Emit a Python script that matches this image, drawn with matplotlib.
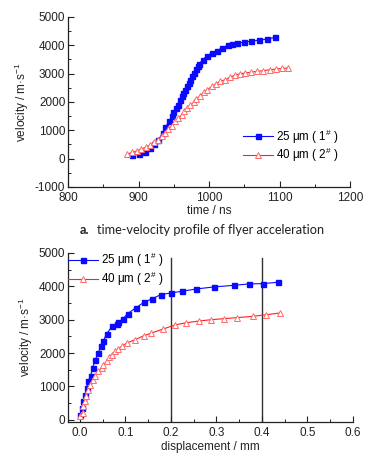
import matplotlib
matplotlib.use('Agg')
import matplotlib.pyplot as plt
from matplotlib.ticker import MultipleLocator

# panel a: time (ns) vs velocity (m/s)
t_25 = [891, 901, 909, 916, 922, 928, 934, 938, 943, 947, 949, 953, 956, 959,
        961, 963, 966, 968, 971, 973, 975, 978, 981, 984, 986, 991, 997, 1004,
        1011, 1018, 1026, 1032, 1040, 1049, 1060, 1070, 1082, 1094]
v_25 = [131, 143, 237, 355, 520, 661, 897, 1110, 1310, 1487, 1628, 1782, 1900,
        2053, 2194, 2313, 2430, 2548, 2667, 2784, 2901, 3020, 3161, 3255, 3350,
        3491, 3633, 3727, 3810, 3904, 3998, 4046, 4081, 4105, 4152, 4175, 4222,
        4281]
t_40 = [884, 891, 898, 904, 910, 916, 922, 927, 933, 937, 942, 947, 952, 956,
        961, 965, 968, 973, 978, 982, 987, 992, 997, 1004, 1010, 1015, 1023,
        1030, 1037, 1044, 1051, 1060, 1068, 1077, 1086, 1095, 1103, 1112]
v_40 = [155, 213, 272, 331, 402, 472, 567, 661, 779, 897, 1039, 1157, 1310,
        1428, 1546, 1664, 1782, 1876, 1982, 2100, 2218, 2336, 2430, 2548, 2642,
        2725, 2784, 2878, 2948, 2996, 3019, 3055, 3078, 3102, 3137, 3161, 3184,
        3196]

# panel b: displacement (mm) vs velocity (m/s)
d_25 = [0, 0.0037, 0.0073, 0.011, 0.0146, 0.0183, 0.0234, 0.0278, 0.033,
        0.0403, 0.0454, 0.0512, 0.0585, 0.071, 0.0805, 0.0842, 0.094, 0.1047,
        0.1223, 0.1405, 0.159, 0.178, 0.1998, 0.224, 0.256, 0.294, 0.339,
        0.371, 0.402, 0.435]
u_25 = [150, 350, 550, 750, 950, 1150, 1320, 1550, 1780, 2000, 2200, 2350,
        2580, 2800, 2880, 2920, 3020, 3180, 3350, 3520, 3630, 3750, 3800, 3850,
        3920, 3980, 4030, 4070, 4080, 4120]
d_40 = [0, 0.0059, 0.0073, 0.011, 0.0132, 0.0183, 0.022, 0.0278, 0.033,
        0.0403, 0.0476, 0.0512, 0.0585, 0.0644, 0.0695, 0.0768, 0.0842,
        0.0915, 0.1025, 0.121, 0.1405, 0.157, 0.183, 0.2085, 0.234, 0.262,
        0.289, 0.316, 0.345, 0.380, 0.410, 0.440]
u_40 = [120, 200, 400, 550, 700, 900, 1050, 1200, 1320, 1450, 1550, 1650,
        1750, 1880, 1950, 2050, 2120, 2200, 2300, 2400, 2520, 2600, 2720,
        2840, 2910, 2960, 3000, 3030, 3060, 3100, 3150, 3200]

vlines_b = [0.2, 0.4]
label_25 = '25 μm ( 1$^{\\#}$ )'
label_40 = '40 μm ( 2$^{\\#}$ )'
caption = 'time-velocity profile of flyer acceleration'

plt.rcParams['font.family'] = ['Liberation Sans', 'DejaVu Sans']
plt.rcParams['mathtext.fontset'] = 'custom'
plt.rcParams['mathtext.rm'] = 'Liberation Sans'
plt.rcParams['axes.unicode_minus'] = False
plt.rcParams['font.size'] = 8.5

fig = plt.figure(figsize=(3.87, 4.59), dpi=100)
ax1 = fig.add_axes([0.176, 0.593, 0.729, 0.370])
ax2 = fig.add_axes([0.176, 0.081, 0.736, 0.368])

blue = '#0a0aff'
red = '#ff2020'


def style_axes(ax):
    for s in ['top', 'right']:
        ax.spines[s].set_visible(False)
    for s in ['left', 'bottom']:
        ax.spines[s].set_linewidth(0.9)
        ax.spines[s].set_color('#222222')
    ax.tick_params(which='both', direction='in', colors='#222222',
                   labelcolor='#222222', labelsize=8.5)
    ax.tick_params(axis='x', pad=3.5)
    ax.tick_params(axis='y', pad=2)
    ax.tick_params(which='major', length=4, width=0.8)
    ax.tick_params(which='minor', length=2.5, width=0.7)


def draw(ax, x1, y1, x2, y2):
    ax.plot(x1, y1, color=blue, lw=0.8, marker='s', ms=3.6,
            mfc=blue, mec=blue, label=label_25)
    ax.plot(x2, y2, color=red, lw=0.8, marker='^', ms=4.6,
            mfc='white', mec='#ff6a6a', mew=0.7, label=label_40)


leg_kw = dict(frameon=False, handlelength=2.6, handletextpad=0.25,
              labelspacing=0.05, borderaxespad=0, borderpad=0, fontsize=8.4)

draw(ax1, t_25, v_25, t_40, v_40)
ax1.set_xlim(800, 1200)
ax1.set_ylim(-1000, 5000)
ax1.xaxis.set_major_locator(MultipleLocator(100))
ax1.xaxis.set_minor_locator(MultipleLocator(50))
ax1.yaxis.set_major_locator(MultipleLocator(1000))
ax1.yaxis.set_minor_locator(MultipleLocator(500))
ax1.set_xlabel('time / ns', labelpad=1, color='#222222')
ax1.set_ylabel('velocity / m·s$^{-1}$', labelpad=3, color='#222222')
style_axes(ax1)
ax1.legend(loc='upper left', bbox_to_anchor=(0.62, 0.35), **leg_kw)

draw(ax2, d_25, u_25, d_40, u_40)
for xv in vlines_b:
    ax2.axvline(xv, color='#333333', lw=1.0, ymax=0.97, zorder=1)
ax2.set_xlim(-0.026, 0.6)
ax2.set_ylim(-60, 5000)
ax2.xaxis.set_major_locator(MultipleLocator(0.1))
ax2.xaxis.set_minor_locator(MultipleLocator(0.05))
ax2.yaxis.set_major_locator(MultipleLocator(1000))
ax2.yaxis.set_minor_locator(MultipleLocator(500))
ax2.set_xlabel('displacement / mm', labelpad=1.5, color='#222222')
ax2.set_ylabel('velocity / m·s$^{-1}$', labelpad=3, color='#222222')
style_axes(ax2)
ax2.legend(loc='upper left', bbox_to_anchor=(0.0, 1.01), **leg_kw)

fig.text(0.205, 0.499, 'a.', fontsize=9.2, fontweight='bold',
         family=['Lato', 'DejaVu Sans'], color='#222222', va='center')
fig.text(0.25, 0.499, caption, fontsize=9.2,
         family=['Lato', 'DejaVu Sans'], color='#222222', va='center')

fig.savefig('out.png', dpi=100)
